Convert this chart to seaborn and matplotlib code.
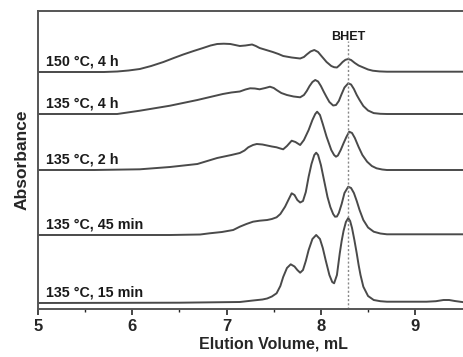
import numpy as np
import pandas as pd
import matplotlib
matplotlib.use("Agg")
import matplotlib.pyplot as plt
import seaborn as sns

# traces: elution volume (mL) and height above each baseline (arb.)
labels = ["150 °C, 4 h", "135 °C, 4 h", "135 °C, 2 h", "135 °C, 45 min", "135 °C, 15 min"]
offsets = [237, 195, 139, 74, 6]

x_150_4h = [5.0, 5.70, 5.84, 5.96, 6.08, 6.20, 6.33, 6.44, 6.54, 6.65, 6.75, 6.83, 6.90, 6.97,
            7.04, 7.09, 7.14, 7.20, 7.27, 7.31, 7.35, 7.42, 7.49, 7.55, 7.60, 7.69, 7.78, 7.82,
            7.85, 7.89, 7.93, 7.97, 8.01, 8.06, 8.11, 8.14, 8.17, 8.20, 8.23, 8.26, 8.29, 8.32,
            8.36, 8.40, 8.45, 8.50, 8.55, 8.62, 8.70, 10.0]
y_150_4h = [0, 0, 0.5, 1.5, 3, 6, 10, 14, 17.5, 21, 24, 26.5, 28, 28.3,
            28, 27, 26, 26.5, 27.5, 26, 24, 22, 20, 18, 16, 14.5, 13.5, 15,
            17.5, 20.5, 22, 20, 15.5, 10, 6, 4.8, 4.5, 7, 10, 12.2, 13, 12,
            9, 6.5, 4.5, 2.5, 1.3, 0.6, 0.3, 0.3]

x_135_4h = [5.0, 5.84, 6.08, 6.40, 6.69, 6.96, 7.05, 7.14, 7.20, 7.25, 7.30, 7.35, 7.41, 7.46,
            7.50, 7.53, 7.58, 7.64, 7.71, 7.78, 7.82, 7.85, 7.88, 7.91, 7.94, 7.97, 8.00, 8.03,
            8.06, 8.09, 8.13, 8.16, 8.19, 8.22, 8.25, 8.29, 8.32, 8.35, 8.38, 8.41, 8.45, 8.50,
            8.56, 8.63, 8.70, 10.0]
y_135_4h = [0, 0, 3.3, 8.3, 14, 20, 21.5, 22.5, 24.5, 25.7, 25.5, 24.7, 26, 27.3,
            26, 24, 21, 19, 17.5, 16.7, 19, 23, 28, 32, 34, 32.5, 28, 22.3,
            17, 12, 8.5, 9, 13, 20, 26.5, 30.7, 29.5, 25, 19, 14, 8, 3.5,
            0.9, 0.2, 0, 0]

x_135_2h = [5.0, 5.60, 6.08, 6.40, 6.69, 6.90, 7.05, 7.14, 7.19, 7.23, 7.28, 7.32, 7.38, 7.43,
            7.48, 7.53, 7.57, 7.60, 7.64, 7.69, 7.73, 7.78, 7.82, 7.87, 7.91, 7.94, 7.96, 7.99,
            8.02, 8.06, 8.11, 8.14, 8.16, 8.18, 8.21, 8.24, 8.27, 8.30, 8.33, 8.36, 8.40, 8.44,
            8.49, 8.54, 8.59, 8.65, 8.70, 10.0]
y_135_2h = [0, 0, 0.7, 3, 6, 12, 15, 17, 19.5, 22.7, 25, 26, 25.5, 24.5,
            23.5, 22.7, 21.5, 20.7, 24, 29.3, 28, 25, 30, 40, 50, 56, 58.3, 55,
            46, 33.3, 20, 15, 13.3, 14.5, 20, 26.7, 33, 38.3, 37, 32, 23, 15,
            8.3, 4, 1.7, 0.5, 0, 0]

x_135_45m = [5.0, 6.40, 6.72, 6.82, 6.95, 7.07, 7.14, 7.21, 7.28, 7.35, 7.43, 7.48, 7.53, 7.57,
             7.62, 7.66, 7.69, 7.72, 7.75, 7.78, 7.81, 7.84, 7.87, 7.90, 7.93, 7.95, 7.97, 8.00,
             8.04, 8.07, 8.10, 8.13, 8.15, 8.17, 8.19, 8.22, 8.25, 8.29, 8.32, 8.35, 8.38, 8.41,
             8.45, 8.50, 8.56, 8.63, 8.70, 10.0]
y_135_45m = [0, 0, 0.5, 1.7, 3, 5, 8.3, 11, 13.3, 14.3, 15, 16, 17.7, 21,
             28.3, 36, 41.7, 40, 35, 32.5, 34, 43, 58.3, 71, 80, 82.3, 80, 70,
             51.7, 38, 28, 21, 18.3, 18.5, 22, 31, 42, 48.3, 47, 42, 34, 25,
             15, 7.5, 3.3, 1.5, 0.7, 0.7]

x_135_15m = [5.0, 6.50, 7.14, 7.28, 7.38, 7.43, 7.48, 7.53, 7.57, 7.60, 7.64, 7.68, 7.72, 7.75,
             7.78, 7.81, 7.84, 7.87, 7.91, 7.95, 7.99, 8.02, 8.05, 8.09, 8.12, 8.14, 8.17, 8.20,
             8.22, 8.24, 8.265, 8.29, 8.31, 8.33, 8.355, 8.38, 8.40, 8.42, 8.45, 8.50, 8.56, 8.63,
             8.70, 8.91, 9.12, 9.22, 9.30, 9.36, 9.42, 9.52, 10.0]
y_135_15m = [0, 0.3, 1, 2.5, 3.5, 4.5, 6.5, 9.7, 17, 26, 35, 38.7, 36.5, 33,
             30.3, 33, 42, 53, 64, 68, 64, 55, 43, 28, 21, 19.7, 28, 49.7,
             62, 72, 81, 85, 82, 75, 63, 49.7, 38, 28, 16.3, 7, 3, 1.8,
             1.3, 1.3, 1.3, 1.8, 3, 3, 2, 0.7, 0.7]

traces = [(x_150_4h, y_150_4h), (x_135_4h, y_135_4h), (x_135_2h, y_135_2h),
          (x_135_45m, y_135_45m), (x_135_15m, y_135_15m)]
bhet_x = 8.29

sns.set_style("ticks")
plt.rcParams['font.family'] = ['Liberation Sans', 'DejaVu Sans']
plt.rcParams['font.weight'] = 'bold'

fig = plt.figure(figsize=(4.64, 3.57), dpi=100)
# the original picture is cropped on the right, so the axes run past the figure edge
ax = fig.add_axes([38 / 464, 48 / 357, 471.5 / 464, 298 / 357])

line_col = "#4a4a4a"
for (xs, ys), off, lab in zip(traces, offsets, labels):
    df = pd.DataFrame({"x": xs, "y": np.array(ys) + off})
    sns.lineplot(data=df, x="x", y="y", ax=ax, color=line_col, lw=1.4,
                 sort=False, estimator=None)
    ax.text(5.09, off + 6.5, lab, fontsize=10.3, fontweight='bold', color="#1a1a1a",
            va='baseline', ha='left')

ax.axvline(bhet_x, ymin=0, ymax=(298 - 30) / 298, color="#888888", lw=1, ls=(0, (1.5, 1.5)))
ax.text(bhet_x, 272, "BHET", fontsize=9, fontweight='bold', ha='center', va='center',
        color="#1a1a1a")

ax.set_xlim(5, 10)
ax.set_ylim(0, 298)
ax.set_yticks([])
ax.set_xticks([5, 6, 7, 8, 9])
ax.set_xticks([5.5, 6.5, 7.5, 8.5], minor=True)
ax.tick_params(axis='x', which='major', length=4, width=1.2, labelsize=12, pad=3)
ax.tick_params(axis='x', which='minor', length=2.5, width=1)
for lab in ax.get_xticklabels():
    lab.set_fontweight('bold')
ax.set_xlabel("Elution Volume, mL", fontsize=11.5, fontweight='bold', labelpad=2)
ax.set_ylabel("Absorbance", fontsize=12.5, fontweight='bold', labelpad=6)
for s in ax.spines.values():
    s.set_color("#555555")
    s.set_linewidth(1.4)

fig.savefig("out.png", dpi=100)
